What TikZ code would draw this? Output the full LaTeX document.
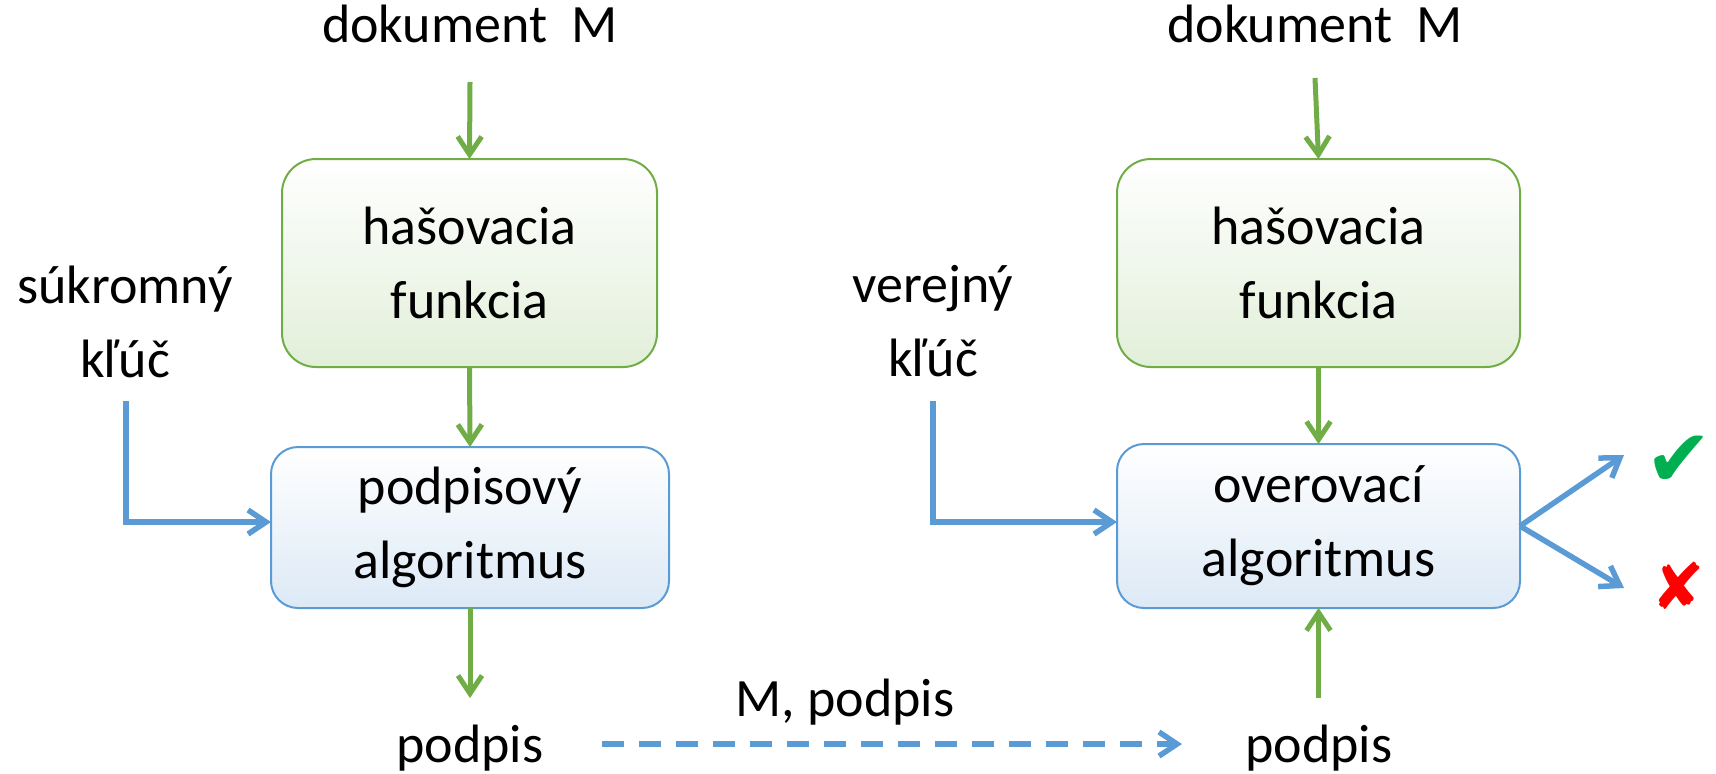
\documentclass[tikz,border=0pt]{standalone}
\usepackage{fontspec}
\setmainfont{Carlito}
\newfontfamily\symfont{DejaVu Sans}
\usetikzlibrary{arrows.meta}
\definecolor{gline}{HTML}{70AD47}
\definecolor{bline}{HTML}{5B9BD5}
\definecolor{gbot}{HTML}{E2EFD9}
\definecolor{bbot}{HTML}{DCE9F6}
\definecolor{okgreen}{HTML}{00B050}
\definecolor{nored}{HTML}{FF0000}
\begin{document}
\begin{tikzpicture}[x=0.5pt,y=-0.5pt,
  every node/.style={font=\fontsize{27pt}{37pt}\selectfont, inner sep=0pt, outer sep=0pt},
  lbl/.style={align=center},
  hashbox/.style={draw=gline, line width=1pt, rounded corners=17pt, top color=white, bottom color=gbot, align=center, minimum height=104pt},
  algbox/.style={draw=bline, line width=1pt, rounded corners=13.5pt, top color=white, bottom color=bbot, align=center},
  tipb/.style={-{Straight Barb[length=9pt,width=12pt]}},
  garrow/.style={draw=gline, line width=2.5pt, tipb},
  barrow/.style={draw=bline, line width=2.75pt, tipb},
  bdash/.style={barrow, dash pattern=on 11pt off 7.5pt},
  symb/.style={font=\symfont\fontsize{#1}{#1}\selectfont}
]
\useasboundingbox (0,0) rectangle (1716,773);

% left column
\node[lbl, anchor=base] (docL) at (470,42) {dokument~~M};
\node[hashbox, minimum width=187.5pt] (hashL) at (469.5,263) {hašovacia\\funkcia};
\node[algbox, minimum width=199pt, minimum height=80.5pt] (algL) at (470,527.5) {podpisový\\algoritmus};
\node[lbl, anchor=base] (podL) at (470,762) {podpis};
\node[lbl] (keyL) at (125,321.5) {súkromný\\kľúč};

% right column
\node[lbl, anchor=base] (docR) at (1315,42) {dokument~~M};
\node[hashbox, minimum width=201.5pt] (hashR) at (1318.5,263) {hašovacia\\funkcia};
\node[algbox, minimum width=201.5pt, minimum height=82pt] (algR) at (1318.5,526) {overovací\\algoritmus};
\node[lbl, anchor=base] (podR) at (1319,762) {podpis};
\node[lbl] (keyR) at (933,321.5) {verejný\\kľúč};

\node[lbl, anchor=base] (mp) at (845,716) {M, podpis};

\node[symb=40pt, text=okgreen] (ok) at (1679,461) {✔};
\node[symb=32pt, text=nored] (no) at (1678,586) {✘};

% free ends
\coordinate (aL) at (470,82);
\coordinate (aR) at (1315,78);
\coordinate (pL) at (470,698);
\coordinate (pR) at (1318.5,698);
\coordinate (kL) at (126,401);
\coordinate (kLc) at (126,522);
\coordinate (kR) at (933,401);
\coordinate (kRc) at (933,522);
\coordinate (dS) at (602,744);
\coordinate (dE) at (1182,744);
\coordinate (okA) at (1624,455);
\coordinate (noA) at (1624,588);

% connectors
\draw[garrow] (aL) -- (hashL.north);
\draw[garrow] (hashL.south) -- (algL.north);
\draw[garrow] (algL.south) -- (pL);
\draw[barrow] (kL) -- (kLc) -- (kLc -| algL.west);

\draw[garrow] (aR) -- (hashR.north);
\draw[garrow] (hashR.south) -- (algR.north);
\draw[garrow] (pR) -- (algR.south);
\draw[barrow] (kR) -- (kRc) -- (kRc -| algR.west);

\draw[barrow] (algR.east) -- (okA);
\draw[barrow] (algR.east) -- (noA);

\draw[bdash] (dS) -- (dE);
\end{tikzpicture}
\end{document}
